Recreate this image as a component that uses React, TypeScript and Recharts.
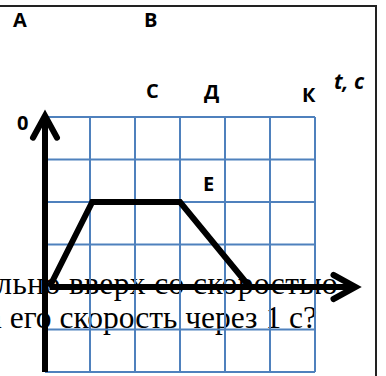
import { ComposedChart, Line, XAxis, YAxis, CartesianGrid, ReferenceLine } from "recharts";

// time grid (x) and value grid (y), in grid units
const xTicks = [0, 1, 2, 3, 4, 5, 6];
const yTicks = [-2, -1, 0, 1, 2, 3, 4];

// the trapezoid graph
const graphT = [0.1, 1.05, 3, 4.55];
const graphV = [0, 2, 2, 0];

const pointLabels = ["A", "B", "C", "Д", "К", "E"];
const axisLabel = "t, c";
const originLabel = "0";
const questionLines = ["вертикально вверх со скоростью", "Какова его скорость через 1 с?"];

const data = graphT.map((t, i) => ({ t, v: graphV[i] }));

const Arrow = (props: any) => {
    const { x1, y1, x2, y2 } = props;
    const dx = x2 - x1;
    const dy = y2 - y1;
    const len = Math.sqrt(dx * dx + dy * dy) || 1;
    const ux = dx / len;
    const uy = dy / len;
    const back = 22;
    const half = 12;
    const bx = x2 - ux * back;
    const by = y2 - uy * back;
    return (
        <g>
            <line x1={x1} y1={y1} x2={x2} y2={y2} stroke="#000" strokeWidth={6} />
            <polyline
                points={`${bx - uy * half},${by + ux * half} ${x2},${y2} ${bx + uy * half},${by - ux * half}`}
                fill="none"
                stroke="#000"
                strokeWidth={6}
                strokeLinecap="round"
                strokeLinejoin="miter"
            />
        </g>
    );
};

export default function App() {
    const labelPos = [
        [13, 27],
        [144, 27],
        [146, 98],
        [204, 99],
        [302, 102],
        [203, 191],
    ];
    const labelStyle = { fontFamily: "'Open Sans', sans-serif", fontWeight: 700, fontSize: 20 };

    return (
        <div style={{ position: "absolute", left: 0, top: 0, width: 386, height: 376, overflow: "hidden", background: "#fff" }}>
            {/* text of the problem, lying under the drawing */}
            <div
                style={{
                    position: "absolute",
                    right: 48,
                    top: 267,
                    whiteSpace: "nowrap",
                    textAlign: "right",
                    fontFamily: "'Liberation Serif', serif",
                    fontSize: 31.5,
                    lineHeight: "34px",
                    color: "#000",
                }}
            >
                <div style={{ letterSpacing: 0.4 }}>{questionLines[0]}</div>
                <div style={{ marginRight: 21 }}>{questionLines[1]}</div>
            </div>

            {/* page frame */}
            <div
                style={{
                    position: "absolute",
                    left: -4,
                    top: 5,
                    width: 379,
                    height: 380,
                    borderTop: "2px solid #222",
                    borderRight: "2px solid #222",
                }}
            />

            <div style={{ position: "absolute", left: 0, top: 0 }}>
                <ComposedChart width={386} height={376} data={data} margin={{ top: 117, right: 71, bottom: 4, left: 45 }}>
                    <XAxis type="number" dataKey="t" domain={[0, 6]} ticks={xTicks} hide allowDataOverflow />
                    <YAxis type="number" domain={[-2, 4]} ticks={yTicks} hide allowDataOverflow />
                    <CartesianGrid stroke="#4f81bd" strokeWidth={2} />
                    <ReferenceLine
                        segment={[{ x: 0, y: -2 }, { x: 0, y: 4.03 }]}
                        ifOverflow="visible"
                        shape={Arrow}
                    />
                    <ReferenceLine
                        segment={[{ x: 0.1, y: 0 }, { x: 6.9, y: 0 }]}
                        ifOverflow="visible"
                        shape={Arrow}
                    />
                    <Line
                        dataKey="v"
                        type="linear"
                        stroke="#000"
                        strokeWidth={6}
                        dot={false}
                        activeDot={false}
                        isAnimationActive={false}
                    />
                </ComposedChart>
            </div>

            <svg width={386} height={376} style={{ position: "absolute", left: 0, top: 0, pointerEvents: "none" }}>
                {pointLabels.map((s, i) => (
                    <text key={s} x={labelPos[i][0]} y={labelPos[i][1]} style={labelStyle}>
                        {s}
                    </text>
                ))}
                <text x={17} y={130} style={labelStyle}>
                    {originLabel}
                </text>
                <text
                    x={334}
                    y={89}
                    style={{ fontFamily: "'Open Sans', sans-serif", fontWeight: 700, fontStyle: "italic", fontSize: 21 }}
                >
                    {axisLabel}
                </text>
            </svg>
        </div>
    );
}
